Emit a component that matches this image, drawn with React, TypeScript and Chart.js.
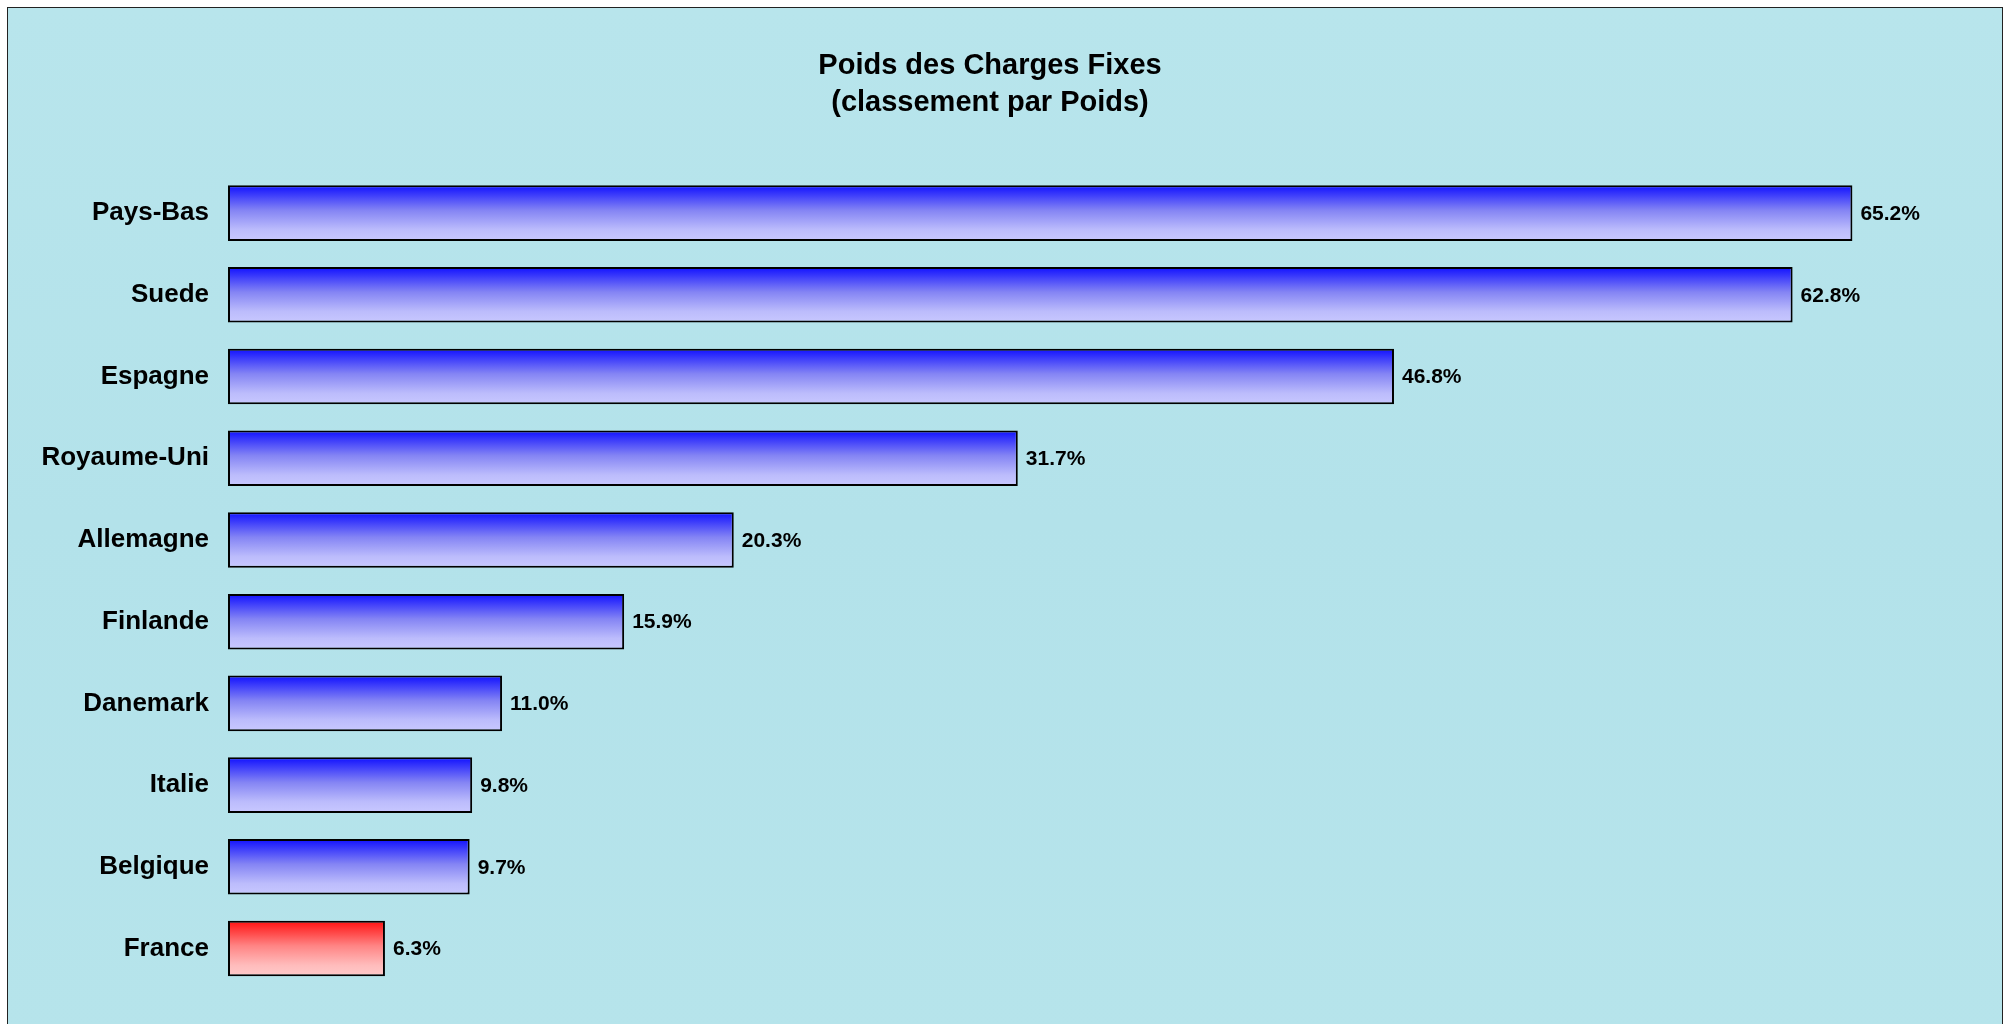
import React, { useEffect, useRef } from "react";
import { Chart, registerables } from "chart.js";

Chart.register(...registerables);

const categories = [
  "Pays-Bas",
  "Suede",
  "Espagne",
  "Royaume-Uni",
  "Allemagne",
  "Finlande",
  "Danemark",
  "Italie",
  "Belgique",
  "France",
];
const values = [65.2, 62.8, 46.8, 31.7, 20.3, 15.9, 11.0, 9.8, 9.7, 6.3];
const highlighted = "France";
const titleLines = ["Poids des Charges Fixes", "(classement par Poids)"];

const FONT = "'Liberation Sans', Arial, Helvetica, sans-serif";

const valueLabelPlugin = {
  id: "valueLabels",
  afterDatasetsDraw(chart: any) {
    const ctx = chart.ctx;
    const meta = chart.getDatasetMeta(0);
    ctx.save();
    ctx.font = `bold 21px ${FONT}`;
    ctx.fillStyle = "#000";
    ctx.textAlign = "left";
    ctx.textBaseline = "middle";
    meta.data.forEach((el: any, i: number) => {
      const v = chart.data.datasets[0].data[i] as number;
      ctx.fillText(`${v.toFixed(1)}%`, el.x + 8, el.y + 1);
    });
    ctx.restore();
  },
};

function barGradient(c: any) {
  const chart = c.chart;
  const isHi = categories[c.dataIndex] === highlighted;
  const fallback = isHi ? "#ff8080" : "#8080ff";
  const yScale = chart.scales && chart.scales.y;
  if (!yScale || !chart.chartArea || c.dataIndex === undefined) return fallback;
  const center = yScale.getPixelForValue(c.dataIndex);
  const h = (yScale.height / categories.length) * 0.68;
  const g = chart.ctx.createLinearGradient(0, center - h / 2, 0, center + h / 2);
  if (isHi) {
    g.addColorStop(0, "#ff1010");
    g.addColorStop(0.45, "#ff8484");
    g.addColorStop(0.8, "#ffbcbc");
    g.addColorStop(1, "#ffcaca");
  } else {
    g.addColorStop(0, "#1010ff");
    g.addColorStop(0.45, "#8484f4");
    g.addColorStop(0.8, "#bcbcfc");
    g.addColorStop(1, "#c8c8ff");
  }
  return g;
}

export default function App() {
  const canvasRef = useRef<HTMLCanvasElement | null>(null);

  useEffect(() => {
    if (!canvasRef.current) return;
    const chart = new Chart(canvasRef.current, {
      type: "bar",
      data: {
        labels: categories,
        datasets: [
          {
            data: values,
            backgroundColor: barGradient as any,
            borderColor: "#000",
            borderWidth: 2,
            borderSkipped: false,
            categoryPercentage: 0.8,
            barPercentage: 0.85,
          },
        ],
      },
      options: {
        indexAxis: "y",
        animation: false,
        responsive: false,
        devicePixelRatio: 1,
        layout: { padding: { left: 0, right: 30, top: 0, bottom: 9 } },
        plugins: {
          legend: { display: false },
          tooltip: { enabled: false },
          title: {
            display: true,
            text: titleLines,
            color: "#000",
            font: { family: FONT, size: 29, weight: "bold", lineHeight: 1.28 },
            padding: { top: 39, bottom: 51 },
          },
        },
        scales: {
          x: {
            display: false,
            min: 0,
            max: 70,
          },
          y: {
            grid: { display: false, drawTicks: false },
            border: { display: false },
            ticks: {
              color: "#000",
              padding: 19,
              font: { family: FONT, size: 26, weight: "bold" },
            },
            afterFit(axis: any) {
              axis.width = 220;
            },
          },
        },
      },
      plugins: [valueLabelPlugin],
    });
    return () => chart.destroy();
  }, []);

  return (
    <div
      style={{
        position: "fixed",
        left: 7,
        top: 7,
        width: 1994,
        height: 1030,
        borderLeft: "1px solid #222",
        borderRight: "1px solid #222",
        borderTop: "1px solid #222",
        background: "linear-gradient(180deg, #b8e5ec 0%, #b3e2ea 50%, #b6e4eb 100%)",
        overflow: "hidden",
      }}
    >
      <canvas ref={canvasRef} width={1994} height={1016} style={{ display: "block" }} />
    </div>
  );
}
